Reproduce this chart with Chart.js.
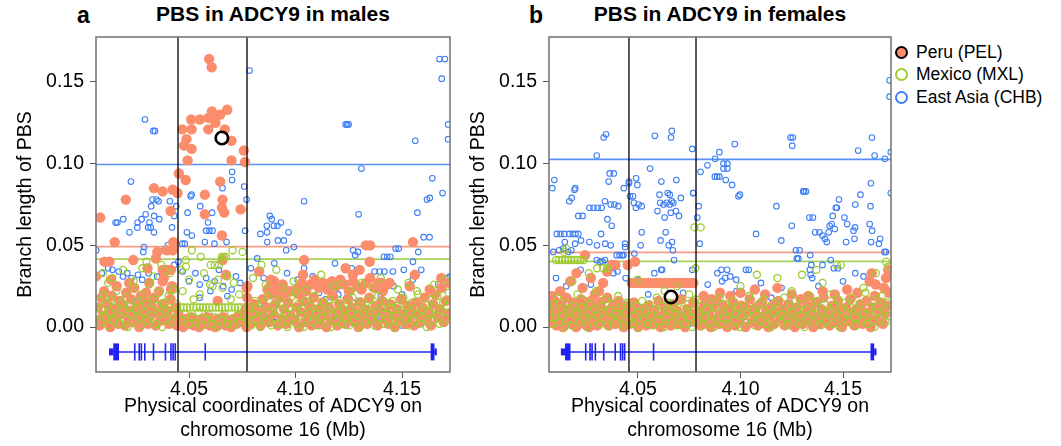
<!DOCTYPE html>
<html>
<head>
<meta charset="utf-8">
<title>PBS in ADCY9</title>
<script src="https://cdn.jsdelivr.net/npm/chart.js@4.4.1/dist/chart.umd.min.js"></script>
<style>
  body { margin:0; background:#fff; width:1061px; height:446px; position:relative; overflow:hidden;
         font-family:"Liberation Sans", Arial, Helvetica, sans-serif; color:#000; }
  canvas { position:absolute; top:0; }
  #panelA { left:0; }
  #panelB { left:460px; }
  .letter, .title { position:absolute; font-weight:bold; white-space:nowrap; }
  .letter { font-size:23px; line-height:23px; }
  .title { font-size:21px; line-height:21px; transform:translateX(-50%); }
  .legend { position:absolute; left:895px; top:41px; font-size:17.5px; }
  .legend div { display:flex; align-items:center; height:22.5px; white-space:nowrap; }
  .legend i { display:inline-block; width:13px; height:13px; border-radius:50%; margin-right:8px; box-sizing:border-box; }
</style>
</head>
<body>
<div class="letter" style="left:77px; top:4px;">a</div>
<div class="title" style="left:273px; top:3px;">PBS in ADCY9 in males</div>
<div class="letter" style="left:529px; top:4px;">b</div>
<div class="title" style="left:720px; top:3px;">PBS in ADCY9 in females</div>
<div class="legend">
  <div><i style="background:#fb8c6c; border:2px solid #000;"></i>Peru (PEL)</div>
  <div><i style="border:2px solid #9dcc2e;"></i>Mexico (MXL)</div>
  <div><i style="border:2px solid #3f7ef5;"></i>East Asia (CHB)</div>
</div>
<canvas id="panelA" width="460" height="446"></canvas>
<canvas id="panelB" width="601" height="446"></canvas>
<script>
// points are [kb past 4.000 Mb, PBS x 1000]

// ---- males ----
const peruMales = [
  [59.4,164],[60.6,159],[60.7,132],[67.9,133],[64.6,130],[59.0,128],[55.1,127],[51.0,127],[61.8,127],[46.8,121],
  [51.2,121],[59.0,121],[62.4,125],[66.8,121],[48.8,115],[69.9,114],[47.6,111],[51.2,109],[75.7,108],[49.3,102],
  [69.9,102],[76.3,101],[45.2,94],[48.4,90],[64.6,89],
  [33.5,85],[37.6,83],[42.3,84],[44.6,82],[57.4,81],[20.3,78],[65.7,78],[8.3,67],[41.3,71],[65.4,73],
  [66.5,70],[74.2,72],[57.4,69],[65.4,56],[15.1,52],[42.6,52],[39.6,47],[42.3,47],[35.1,46],[34.4,42],
  [23.8,41],[10.3,40],[12.6,40],[65.7,41],[30.5,36],[37.6,35],[40.0,35],[41.5,35],[67.3,32],[82.9,34],
  [88.4,29],[6.3,31],[13.3,29],[21.9,27],[37.6,28],[41.5,23],[29.8,21],[63.4,16],[77.4,25],[86.8,23],
  [133.0,50],[135.0,50],[155.1,52],[134.8,40],[104.0,41],[123.5,36],[126.9,32],[130.1,35],[103.5,32],[140.3,27],
  [144.2,27],[156.0,32],[168.4,30],[153.6,25],[163.0,23],[97.0,22],[101.5,20],
  [88,25],[90,28],[92,23],[94,26],[96,21],[101,24],[103,27],[105,22],[107,26],[109,29],[111,24],[113,27],
  [115,23],[117,28],[119,25],[121,29],[123,26],[125,22],[127,28],[129,25],[131,23],[133,27],[135,30],[137,24],
  [139,27],[141,22],[143,26],
  [6.5,4],[7.2,12],[8.0,1],[8.8,18],[9.5,7],[10.1,22],[10.9,3],[11.6,14],[12.4,9],[13.0,0],[13.7,19],[14.5,5],
  [15.2,11],[16.0,25],[16.7,2],[17.5,16],[18.2,8],[19.0,13],[19.8,1],[20.5,21],[21.3,6],[22.0,10],[22.8,17],
  [23.6,3],[24.3,24],[25.1,8],[25.9,13],[26.6,0],[27.4,19],[28.2,5],[29.0,11],[29.7,15],[30.5,2],[31.3,27],
  [32.0,7],[32.8,12],[33.6,18],[34.3,1],[35.1,9],[35.9,22],[36.6,4],[37.4,14],[38.2,30],[39.0,6],[39.7,10],
  [40.5,2],[41.3,17],[42.0,25],[42.8,5],[43.6,12],[44.3,1],[45.0,8],
  [46.0,3],[47.2,0],[48.5,5],[49.7,2],[51.0,6],[52.2,1],[53.5,4],[54.7,0],[56.0,5],[57.2,2],[58.5,6],[59.7,1],
  [61.0,4],[62.2,0],[63.5,5],[64.7,2],[66.0,6],[67.2,1],[68.5,4],[69.7,0],[71.0,5],[72.2,2],[73.5,7],[74.7,3],
  [76.0,9],[77.0,0],[77.2,6],[77.1,12],[77.3,18],[77.0,24],
  [78.5,2],[79.5,8],[80.6,14],[81.5,4],[82.6,10],[83.6,1],[84.6,17],[85.5,6],[86.6,12],[87.5,3],[88.6,20],
  [89.6,8],[90.5,14],[91.6,1],[92.6,18],[93.5,5],[94.6,11],[95.6,2],[96.5,15],[97.6,7],[98.5,22],[99.6,4],
  [100.5,12],[101.6,0],[102.6,9],[103.5,16],[104.6,3],[105.6,8],[106.5,13],[107.6,1],[108.5,18],[109.6,6],
  [110.6,11],[111.5,2],[112.6,15],[113.6,7],[114.5,0],[115.6,12],[116.6,4],[117.5,19],[118.6,9],[119.6,1],
  [120.5,14],[121.6,5],[122.6,10],[123.5,2],[124.6,17],[125.6,7],[126.5,12],[127.6,3],[128.6,9],[129.5,0],
  [130.6,15],[131.6,6],[132.5,11],[133.6,2],[134.6,18],[135.5,8],[136.6,4],[137.6,13],[138.5,1],[139.6,10],
  [140.6,16],[141.5,5],[142.6,9],[143.6,2],[144.5,14],[145.6,7],[146.6,0],[147.5,11],[148.6,4],[149.6,17],
  [150.5,8],[151.6,2],[152.6,13],[153.5,6],[154.6,10],[155.6,1],[156.5,15],[157.6,7],[158.6,3],[159.5,12],
  [160.6,18],[161.6,5],[162.5,9],[163.6,1],[164.6,14],[165.5,20],[166.6,6],[167.6,11],[168.5,24],[169.6,3],
  [170.6,16],[171.5,8],[172.3,27]
];
const mexicoMales = [
  [6.8,8],[7.5,16],[8.3,3],[9.0,11],[9.8,20],[10.6,6],[11.3,14],[12.1,1],[12.8,9],[13.6,17],[14.4,4],[15.1,12],
  [15.9,22],[16.6,7],[17.4,2],[18.1,15],[18.9,10],[19.7,5],[20.4,18],[21.2,0],[22.0,13],[22.7,8],[23.5,24],
  [24.3,3],[25.0,11],[25.8,16],[26.6,6],[27.3,1],[28.1,20],[28.9,9],[29.6,14],[30.4,4],[31.2,26],[31.9,11],
  [32.7,7],[33.5,17],[34.2,2],[35.0,13],[35.8,21],[36.5,8],[37.3,0],[38.1,15],[38.8,10],[39.6,5],[40.4,19],
  [41.1,12],[41.9,3],[42.7,23],[43.4,9],[44.2,14],
  [9.5,33],[14,30],[19,35],[24,28],[28,36],[33,31],[37,38],[41,33],[12,27],[30,40],
  [46,12],[47.5,12],[49,12],[50.5,12],[52,12],[53.5,12],[55,12],[56.5,12],[58,12],[59.5,12],[61,12],[62.5,12],
  [64,12],[65.5,12],[67,12],[68.5,12],[70,12],[71.5,12],[73,12],[74.5,12],
  [46.5,4],[48,8],[50,2],[51.5,6],[53,3],[54.5,9],[56,1],[57.5,5],[59,8],[60.5,2],[62,6],[63.5,0],[65,4],
  [66.5,8],[68,2],[69.5,5],[71,1],[72.5,7],[74,3],[75.5,6],
  [51.3,47],[48.5,41],[55.5,43],[60.2,38],[62,38],[64,38],[65.4,43],[66.3,43],[67.3,43],[70.4,47],[75.1,46],
  [46.2,35],[48.5,37],[59.9,26],[61,25],[63.6,29],[65.7,24],[69.6,17],[73.5,20],[52.1,17],[55,20],[57,33],
  [68,31],[71,27],[47,22],[50,29],
  [77.5,4],[78.3,12],[79.2,1],[80.0,8],[80.9,16],[81.7,5],[82.6,11],[83.4,0],[84.3,14],[85.1,7],[86.0,3],
  [86.8,19],[87.7,9],[88.5,1],[89.4,13],[90.2,6],[91.1,17],[91.9,2],[92.8,10],[93.6,15],[94.5,4],[95.3,8],
  [96.2,0],[97.0,12],[97.9,18],[98.7,5],[99.6,9],[100.4,2],[101.3,14],[102.1,7],[103.0,11],[103.8,0],[104.7,16],
  [105.5,5],[106.4,9],[107.2,13],[108.1,3],[108.9,19],[109.8,8],[110.6,1],[111.5,12],[112.3,6],[113.2,15],
  [114.0,3],[114.9,10],[115.7,17],[116.6,0],[117.4,7],[118.3,13],[119.1,4],[120.0,9],[120.8,16],[121.7,2],
  [122.5,11],[123.4,6],[124.2,14],[125.1,1],[125.9,8],[126.8,18],[127.6,4],[128.5,12],[129.3,7],[130.2,0],
  [131.0,15],[131.9,9],[132.7,3],[133.6,11],[134.4,17],[135.3,5],[136.1,13],[137.0,1],[137.8,9],[138.7,19],
  [139.5,6],[140.4,12],[141.2,2],[142.1,15],[142.9,8],[143.8,4],[144.6,11],[145.5,16],[146.3,0],[147.2,7],
  [148.0,13],[148.9,3],[149.7,10],[150.6,18],[151.4,5],[152.3,12],[153.1,1],[154.0,9],[154.8,15],[155.7,4],
  [156.5,8],[157.4,20],[158.2,2],[159.1,11],[159.9,6],[160.8,14],[161.6,0],[162.5,9],[163.3,17],[164.2,4],
  [165.0,12],[165.9,7],[166.7,19],[167.6,2],[168.4,10],[169.3,15],[170.1,5],[171.0,13],[171.8,21],
  [80,30],[84,38],[86,26],[91,35],[94,24],[99,28],[105,23],[112,32],[118,25],[121,26],[126,22],[131,27],
  [136,24],[140,30],[148,23],[153,27],[157,22],[165,26],[170,29],[100,22]
];
const asiaMales = [
  [29.3,127],[33.2,120],[34.0,120],[22.7,89],[167.6,164],[170.1,164],[168.6,152],[171.6,124],[171.6,115],
  [156.2,114],[123.5,124],[124.2,124],[124.9,124],[130.9,97],[164.2,91],[169.0,82],[78.4,157],[70.2,95],
  [70.2,90],[65.7,85],[75.9,86],[51.2,81],
  [49.3,70],[55.2,74],[60.8,70],[50.7,80],[58.9,64],[58.0,59],[59.5,59],[61.0,59],[49.0,58],[51.3,56],[46.8,51],
  [48.0,51],[57.4,52],[61.9,51],[67.6,52],[76.3,59],[77.0,78],[104.0,77],[129.6,69],[87.9,68],[88.8,66],
  [89.8,62],[93.1,64],[86.5,62],[91.5,62],[83.5,57],[86.6,58],[96.7,58],[91.7,53],[94.5,53],[86.7,52],[95.6,47],
  [99.2,49],[161.7,78],[163.0,79],[157.2,70],[160.1,55],[162.9,55],[157.6,46],[155.1,40],[147.0,48],[148.4,48],
  [144.5,43],[141.5,43],[143.0,43],[127.0,47],[129.3,46],[128.0,44],[118.5,39],[126.4,36],[137.1,34],[139.5,34],
  [141.7,34],[145.7,34],[150.8,35],
  [6.4,47],[15.5,64],[16.3,64],[19.1,66],[25.8,64],[27.7,66],[29.6,69],[33.6,68],[31.4,64],[30.8,61],[32.0,61],
  [33.5,58],[25.7,61],[32.2,74],[32.8,78],[34.7,78],[35.7,77],[43.0,68],[28.5,46],[28.8,49],[38.3,47],[40,50],
  [42,61],[36,66],[44,74],[41,77],[22,58],
  [9,33],[12,36],[14,35],[17,34],[19,31],[21,33],[23,30],[26,32],[28,29],[31,33],[35,31],[38,36],[43,38],
  [45,40],[47,34],[50,28],[53,33],[55,26],[58,30],[60,22],[62,28],[64,35],[66,25],[68,19],[70,23],[72,31],
  [74,27],[79,36],[82,42],[85,30],[90,39],[96,33],[101,29],[104,36],[108,31],[111,21],[114,17],[117,28],
  [120,20],[124,18],[127,15],[130,16],[135,18],[140,19],[146,25],[150,20],[155,29],[159,35],[163,22],[167,26],
  [171,30],[172.5,31],
  [10,5],[20,2],[30,8],[40,3],[50,1],[60,3],[70,5],[80,2],[90,3],[100,5],[110,1],[120,4],[130,2],[140,6],
  [150,1],[160,3],[170,5],[25,15],[55,18],[85,12],[115,9],[145,13],[165,10]
];

// ---- females ----
const peruFemales = [
  [24.2,44],[37.2,38],[39,38],[45,38],[48.6,40],[17,28],[20,33],[23,24],[27,30],[31,22],[35,34],[33,27],[29,20],
  [12,22],[8,19],
  [47,27],[49,27],[51,27],[53,27],[55,27],[57,27],[59,27],[61,27],[63,27],[65,27],[67,27],[69,27],[71,27],
  [73,27],[75,27],[77,27],
  [107,23],[118,24],[163,28],[164,33],[166,26],[171,30],[172,35],[170,24],[90,21],[95,19],[100,21],[112,20],
  [125,20],[133,19],[140,22],[146,20],[152,23],[157,21],[82,19],[86,17],
  [7,3],[7.8,12],[8.6,7],[9.4,16],[10.2,1],[11.0,10],[11.8,5],[12.6,14],[13.4,0],[14.2,8],[15.0,18],[15.8,4],
  [16.6,11],[17.4,2],[18.2,15],[19.0,7],[19.8,0],[20.6,12],[21.4,5],[22.2,17],[23.0,9],[23.8,2],[24.6,13],
  [25.4,6],[26.2,0],[27.0,16],[27.8,9],[28.6,4],[29.4,12],[30.2,1],[31.0,8],[31.8,15],[32.6,3],[33.4,10],
  [34.2,6],[35.0,18],[35.8,1],[36.6,11],[37.4,5],[38.2,14],[39.0,2],[39.8,9],[40.6,16],[41.4,4],[42.2,11],
  [43.0,0],[43.8,7],[44.6,13],
  [46,2],[47,9],[48,15],[49,5],[50,0],[51,11],[52,4],[53,8],[54,1],[55,13],[56,6],[57,2],[58,10],[59,4],
  [60,16],[61,0],[62,7],[63,12],[64,3],[65,9],[66,1],[67,14],[68,5],[69,10],[70,2],[71,17],[72,6],[73,0],
  [74,11],[75,4],[76,8],[77,15],[78,3],
  [79.5,10],[80.5,1],[81.5,6],[82.5,14],[83.5,3],[84.5,9],[85.5,0],[86.5,12],[87.5,5],[88.5,16],[89.5,2],
  [90.5,8],[91.5,13],[92.5,4],[93.5,0],[94.5,10],[95.5,6],[96.5,15],[97.5,1],[98.5,9],[99.5,4],[100.5,13],
  [101.5,7],[102.5,0],[103.5,11],[104.5,17],[105.5,3],[106.5,8],[107.5,12],[108.5,1],[109.5,6],[110.5,15],
  [111.5,4],[112.5,10],[113.5,0],[114.5,7],[115.5,13],[116.5,2],[117.5,9],[118.5,16],[119.5,5],[120.5,11],
  [121.5,1],[122.5,7],[123.5,14],[124.5,3],[125.5,9],[126.5,0],[127.5,12],[128.5,6],[129.5,17],[130.5,2],
  [131.5,8],[132.5,13],[133.5,4],[134.5,10],[135.5,0],[136.5,15],[137.5,6],[138.5,2],[139.5,11],[140.5,18],
  [141.5,5],[142.5,9],[143.5,1],[144.5,13],[145.5,7],[146.5,3],[147.5,16],[148.5,10],[149.5,0],[150.5,6],
  [151.5,12],[152.5,4],[153.5,17],[154.5,8],[155.5,1],[156.5,11],[157.5,5],[158.5,14],[159.5,2],[160.5,9],
  [161.5,16],[162.5,6],[163.5,0],[164.5,12],[165.5,19],[166.5,4],[167.5,10],[168.5,15],[169.5,2],[170.5,8],
  [171.5,13],[172.5,21]
];
const mexicoFemales = [
  [10,41],[11.5,41],[13,41],[14.5,41],[16,41],[17.5,41],[19,41],[20.5,41],[22,41],[23.5,41],[14,46],[15,48],
  [77.5,61],[80.6,61],[26,33],[18,28],[30,36],[33,36],[35,36],[50,29],[63,22],[69,25],[75,20],[78,36],[100,25],
  [108,32],[118,30],[130,32],[137,35],[147,38],[149,38],[160,24],[166,33],[171,40],[172,37],[140,27],[125,22],
  [7,9],[7.9,2],[8.8,14],[9.7,6],[10.6,18],[11.5,3],[12.4,11],[13.3,7],[14.2,0],[15.1,15],[16.0,5],[16.9,10],
  [17.8,1],[18.7,13],[19.6,8],[20.5,20],[21.4,3],[22.3,12],[23.2,6],[24.1,16],[25.0,0],[25.9,9],[26.8,14],
  [27.7,4],[28.6,11],[29.5,22],[30.4,7],[31.3,2],[32.2,13],[33.1,9],[34.0,17],[34.9,1],[35.8,10],[36.7,5],
  [37.6,14],[38.5,3],[39.4,8],[40.3,19],[41.2,6],[42.1,12],[43.0,1],[43.9,9],[44.8,15],[45.7,4],[46.6,11],
  [47.5,2],[48.4,7],[49.3,13],[50.2,0],[51.1,9],[52.0,16],[52.9,5],[53.8,10],[54.7,2],[55.6,14],[56.5,7],
  [57.4,1],[58.3,11],[59.2,18],[60.1,4],[61.0,9],[61.9,13],[62.8,0],[63.7,6],[64.6,15],[65.5,10],[66.4,3],
  [67.3,12],[68.2,8],[69.1,1],[70.0,16],[70.9,5],[71.8,11],[72.7,2],[73.6,9],[74.5,14],[75.4,6],[76.3,0],
  [77.2,10],[78.1,17],[79.0,4],[79.9,8],[80.8,13],[81.7,1],[82.6,6],[83.5,11],[84.4,3],[85.3,15],[86.2,8],
  [87.1,0],[88.0,12],[88.9,5],[89.8,18],[90.7,2],[91.6,9],[92.5,14],[93.4,6],[94.3,1],[95.2,10],[96.1,16],
  [97.0,4],[97.9,8],[98.8,12],[99.7,0],[100.6,7],[101.5,13],[102.4,3],[103.3,9],[104.2,19],[105.1,5],[106.0,11],
  [106.9,1],[107.8,8],[108.7,14],[109.6,4],[110.5,10],[111.4,17],[112.3,2],[113.2,7],[114.1,12],[115.0,0],
  [115.9,9],[116.8,15],[117.7,5],[118.6,11],[119.5,3],[120.4,8],[121.3,18],[122.2,6],[123.1,1],[124.0,13],
  [124.9,9],[125.8,4],[126.7,16],[127.6,10],[128.5,2],[129.4,7],[130.3,14],[131.2,0],[132.1,11],[133.0,5],
  [133.9,19],[134.8,8],[135.7,3],[136.6,12],[137.5,16],[138.4,6],[139.3,1],[140.2,10],[141.1,14],[142.0,4],
  [142.9,9],[143.8,20],[144.7,2],[145.6,13],[146.5,7],[147.4,17],[148.3,0],[149.2,11],[150.1,5],[151.0,15],
  [151.9,9],[152.8,3],[153.7,12],[154.6,18],[155.5,6],[156.4,1],[157.3,10],[158.2,14],[159.1,4],[160.0,8],
  [160.9,21],[161.8,2],[162.7,12],[163.6,7],[164.5,16],[165.4,0],[166.3,9],[167.2,13],[168.1,5],[169.0,19],
  [169.9,10],[170.8,3],[171.7,15],[172.6,7]
];
const asiaFemales = [
  [172.7,151],[172.7,141],[34.4,118],[33.3,116],[29.9,105],[58.2,117],[66.5,120],[66.1,116],[76.5,109],
  [97.2,112],[124.4,116],[125.5,116],[125.2,111],[164.1,116],[157.4,108],[165.4,105],[170.4,103],[173.3,107],
  [87.6,103],[89.7,107],[91.7,100],[93.6,100],[91.7,97],[93.6,97],[87.5,92],[88.6,92],[89.7,92],[83.9,99],
  [80.5,95],[92.8,90],[95.9,87],[99.7,81],[36.2,94],[38.2,94],[35.7,89],[9.2,90],[8.2,85],[19.4,85],[19.0,84],
  [17.7,79],[16.5,77],[43.1,85],[45.6,88],[45.6,89],[49.1,91],[49.7,87],[55.9,97],[61.4,89],[68.7,90],[65.5,81],
  [70.9,79],[47.6,80],[76.9,82],[130.6,83],[131.9,83],[163.6,88],[158.5,81],[173.3,82],
  [20.9,68],[23,68],[26.3,73],[28.3,73],[30.3,73],[32.3,73],[33.9,77],[36.7,75],[38.5,75],[40.4,74],[35.1,66],
  [37.2,62],[32,57],[10.4,57],[12.2,57],[14,57],[16.5,57],[18.2,57],[19.5,57],[20.9,57],[14.3,52],[19.3,51],
  [22.2,53],[26.3,52],[30,50],[34,51],[36.7,50],[8.7,46],[11.5,47],[13.5,48],[16,46],[17.5,47],[29.9,41],
  [31.5,40],[32.7,40],[33.9,41],[39.6,44],[41,44],[42.2,44],[42.9,44],[43.7,49],[43.7,51],[35,34],[38,33],[40,34],
  [46.1,80],[48,76],[49,73],[50.3,75],[51.8,74],[51.8,58],[51.3,50],[48.2,45],[60.8,76],[62.5,75],[64,76],
  [65.5,75],[66.5,77],[67.3,76],[60.5,81],[64.5,82],[59.5,71],[63,67],[66,70],[68.5,71],[70,68],[61,53],
  [63.5,58],[65,50],[66.6,52],[67,47],[77,82],[79.6,74],[78.9,67],[80.1,51],[76.5,35],[61.3,35],[61.8,35],
  [67.6,41],[49.7,29],[88.7,33],[90.7,35],[92.5,30],[95,31],[97.9,29],[93.5,35],[91,28],[99,80],[107.6,57],
  [102.6,35],[104,35],[117.5,74],[119.9,53],[125,62],[127,47],[128.8,47],[127.5,42],[128.2,42],[131,83],
  [133.6,67],[135.3,67],[136.4,58],[138.5,58],[140,56],[141.2,54],[142.1,52],[134,44],[134.5,38],[133.8,35],
  [134.2,32],[135,30],[143,58],[144.5,63],[145,68],[146.5,73],[147,73],[148,78],[143.5,62],[146,60],[150.7,67],
  [152,63],[151.5,52],[156,75],[163,63],[163.7,52],[168.1,54],[167.5,51],[170.2,46],[170.9,46],[144,41],
  [145.5,36],[147.5,36],[140,38],[155.1,59],[155.9,61],[155.6,54],[163.4,74],[164.2,59],
  [10,30],[15,25],[22,35],[27,26],[44,30],[55,20],[58,33],[72,21],[84,26],[98,22],[110,27],[115,18],[120,24],
  [138,25],[150,28],[156,33],[160,31],
  [12,3],[25,5],[38,2],[52,6],[63,4],[75,2],[87,5],[100,3],[112,6],[125,2],[138,4],[150,6],[162,3],[170,8]
];

// threshold lines [East Asia, Peru, Mexico] and window edges (Mb)
const maleCutoffs = [0.0995, 0.0492, 0.0416];
const femaleCutoffs = [0.1026, 0.0457, 0.0402];
const maleWindow = [4.0448, 4.0772];
const femaleWindow = [4.0456, 4.0783];
const maleHighlight = [65.4, 115.7];
const femaleHighlight = [66.1, 18.4];

// ADCY9 gene model (kb past 4.000 Mb)
const geneSpan = [12.4, 166.3];
const utrBlocks = [[12.4, 14.4], [165.2, 166.3]];
const codingBlocks = [[14.4, 17.1], [163.4, 165.2]];
const exonTicks = [24.5, 26.6, 27.6, 29.2, 33.3, 38.9, 41.5, 42.5, 43.5, 57.6];
const geneY = -0.0152;

const yTicks = [0, 0.05, 0.10, 0.15];
const xTicks = [4.05, 4.10, 4.15];

const FONT = '"Liberation Sans", Arial, Helvetica, sans-serif';
const toPoints = arr => arr.map(p => ({ x: 4 + p[0] / 1000, y: p[1] / 1000 }));
const mb = k => 4 + k / 1000;

const framePlugin = {
  id: 'frame',
  afterDatasetsDraw(chart) {
    const { ctx, chartArea: a } = chart;
    ctx.save();
    ctx.strokeStyle = '#707070';
    ctx.lineWidth = 1.5;
    ctx.strokeRect(a.left, a.top, a.right - a.left, a.bottom - a.top);
    ctx.restore();
  }
};

function segment(x0, y0, x1, y1, color, width, order) {
  return {
    data: [{ x: x0, y: y0 }, { x: x1, y: y1 }],
    showLine: true, pointRadius: 0, borderColor: color, borderWidth: width,
    borderCapStyle: 'butt', clip: 0, order: order
  };
}

function makePanel(id, opt) {
  const xMin = opt.xRange[0], xMax = opt.xRange[1];
  const yMin = -0.0275, yMax = 0.1775;
  const sets = [];

  // gene model at the bottom
  const geneBlue = '#1f22f2';
  sets.push(segment(mb(geneSpan[0]), geneY, mb(geneSpan[1]), geneY, geneBlue, 1.5, 9));
  utrBlocks.forEach(b => sets.push(segment(mb(b[0]), geneY, mb(b[1]), geneY, geneBlue, 7, 9)));
  codingBlocks.forEach(b => sets.push(segment(mb(b[0]), geneY, mb(b[1]), geneY, geneBlue, 17, 9)));
  exonTicks.forEach(k => sets.push(segment(mb(k), geneY - 0.0053, mb(k), geneY + 0.0053, geneBlue, 1.6, 9)));

  // threshold lines
  const cutColors = ['#5a90f8', '#f79c80', '#a8d25a'];
  opt.cutoffs.forEach((c, i) => sets.push(segment(xMin, c, xMax, c, cutColors[i], 1.6, 8)));

  // populations
  sets.push({ label: 'East Asia (CHB)', data: toPoints(opt.asia), pointRadius: 2.8, pointBorderWidth: 1.1,
    pointBackgroundColor: 'rgba(0,0,0,0)', pointBorderColor: '#3f7ef5', showLine: false, clip: 0, order: 5 });
  sets.push({ label: 'Peru (PEL)', data: toPoints(opt.peru), pointRadius: 5.2, pointBorderWidth: 0,
    pointBackgroundColor: '#fb8c6c', pointBorderColor: '#fb8c6c', showLine: false, clip: 0, order: 4 });
  sets.push({ label: 'Mexico (MXL)', data: toPoints(opt.mexico), pointRadius: 3.5, pointBorderWidth: 1.3,
    pointBackgroundColor: 'rgba(0,0,0,0)', pointBorderColor: '#9dcc2e', showLine: false, clip: 0, order: 3 });

  // window edges and highlighted SNP
  opt.window.forEach(x => sets.push(segment(x, yMin, x, yMax, '#000', 1.3, 2)));
  sets.push({ data: toPoints([opt.highlight]), pointRadius: 6.2, pointBorderWidth: 2.6,
    pointBackgroundColor: 'rgba(0,0,0,0)', pointBorderColor: '#000', showLine: false, clip: 0, order: 1 });

  const tickFont = { family: FONT, size: 19.5 };
  return new Chart(document.getElementById(id), {
    type: 'scatter',
    data: { datasets: sets },
    options: {
      responsive: false, animation: false, devicePixelRatio: 1,
      layout: { padding: { left: 0, top: 37, right: opt.padRight, bottom: 0 } },
      plugins: { legend: { display: false }, tooltip: { enabled: false } },
      scales: {
        x: {
          type: 'linear', min: xMin, max: xMax,
          afterBuildTicks: s => { s.ticks = xTicks.map(v => ({ value: v })); },
          afterFit: s => { s.height = 74; },
          grid: { drawOnChartArea: false, drawTicks: true, tickLength: 6, tickColor: '#555' },
          border: { display: false },
          ticks: { color: '#000', font: tickFont, padding: 0, maxRotation: 0,
                   callback: v => Number(v).toFixed(2) },
          title: { display: true, text: ['Physical coordinates of ADCY9 on', 'chromosome 16 (Mb)'],
                   color: '#000', font: tickFont, padding: { top: 0, bottom: 4 } }
        },
        y: {
          type: 'linear', min: yMin, max: yMax,
          afterBuildTicks: s => { s.ticks = yTicks.map(v => ({ value: v })); },
          afterFit: s => { s.width = opt.axisWidth; },
          grid: { drawOnChartArea: false, drawTicks: true, tickLength: 6, tickColor: '#555' },
          border: { display: false },
          ticks: { color: '#000', font: tickFont, padding: 6, callback: v => Number(v).toFixed(2) },
          title: { display: true, text: 'Branch length of PBS', color: '#000', font: tickFont,
                   padding: { top: opt.titlePad, bottom: 0 } }
        }
      }
    },
    plugins: [framePlugin]
  });
}

makePanel('panelA', {
  xRange: [4.0063, 4.1725], padRight: 10, axisWidth: 96, titlePad: 14,
  peru: peruMales, mexico: mexicoMales, asia: asiaMales,
  cutoffs: maleCutoffs, window: maleWindow, highlight: maleHighlight
});
makePanel('panelB', {
  xRange: [4.0066, 4.1734], padRight: 170, axisWidth: 89, titlePad: 7,
  peru: peruFemales, mexico: mexicoFemales, asia: asiaFemales,
  cutoffs: femaleCutoffs, window: femaleWindow, highlight: femaleHighlight
});
</script>
</body>
</html>
